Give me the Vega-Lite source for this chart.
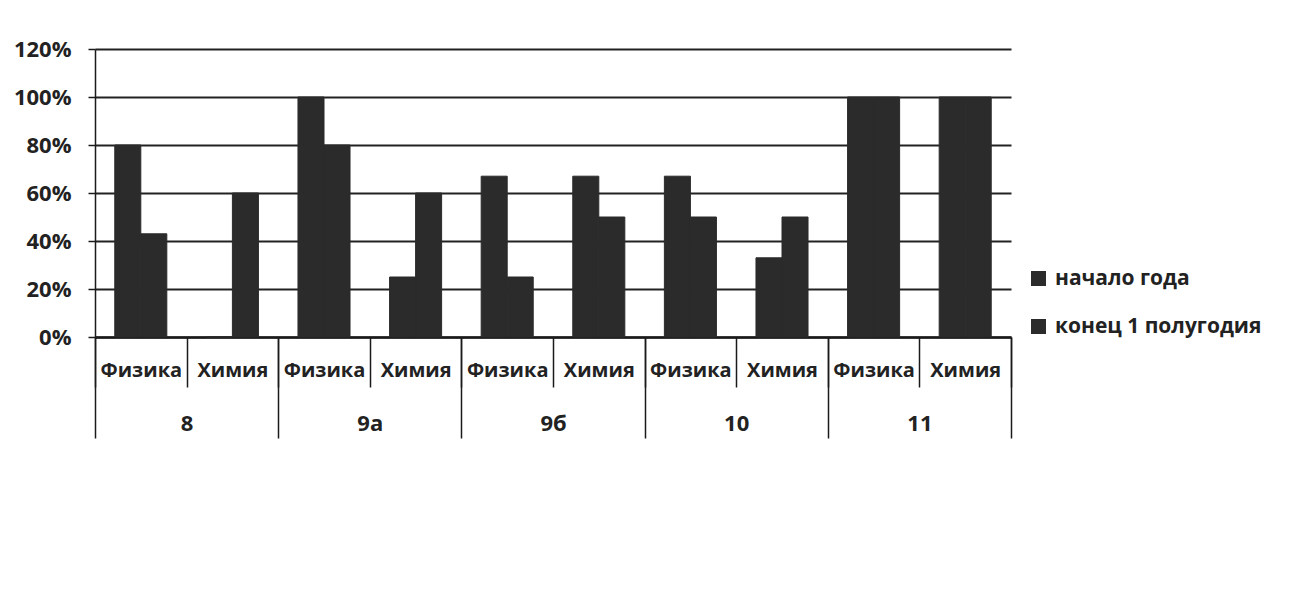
{
  "$schema": "https://vega.github.io/schema/vega-lite/v6.json",
  "autosize": {"type": "none"},
  "width": 916,
  "height": 288,
  "padding": {"left": 95, "top": 49, "right": 278, "bottom": 258},
  "background": "white",
  "config": {
    "view": {"stroke": null},
    "font": "Open Sans",
    "axis": {"labelFont": "Open Sans", "labelFontWeight": "bold", "labelColor": "#222"},
    "legend": {"labelFont": "Open Sans"}
  },
  "datasets": {
    "bars": [
      {"class": "8", "subject": "Физика", "series": "начало года", "value": 80},
      {"class": "8", "subject": "Физика", "series": "конец 1 полугодия", "value": 43},
      {"class": "8", "subject": "Химия", "series": "начало года", "value": 0},
      {"class": "8", "subject": "Химия", "series": "конец 1 полугодия", "value": 60},
      {"class": "9а", "subject": "Физика", "series": "начало года", "value": 100},
      {"class": "9а", "subject": "Физика", "series": "конец 1 полугодия", "value": 80},
      {"class": "9а", "subject": "Химия", "series": "начало года", "value": 25},
      {"class": "9а", "subject": "Химия", "series": "конец 1 полугодия", "value": 60},
      {"class": "9б", "subject": "Физика", "series": "начало года", "value": 67},
      {"class": "9б", "subject": "Физика", "series": "конец 1 полугодия", "value": 25},
      {"class": "9б", "subject": "Химия", "series": "начало года", "value": 67},
      {"class": "9б", "subject": "Химия", "series": "конец 1 полугодия", "value": 50},
      {"class": "10", "subject": "Физика", "series": "начало года", "value": 67},
      {"class": "10", "subject": "Физика", "series": "конец 1 полугодия", "value": 50},
      {"class": "10", "subject": "Химия", "series": "начало года", "value": 33},
      {"class": "10", "subject": "Химия", "series": "конец 1 полугодия", "value": 50},
      {"class": "11", "subject": "Физика", "series": "начало года", "value": 100},
      {"class": "11", "subject": "Физика", "series": "конец 1 полугодия", "value": 100},
      {"class": "11", "subject": "Химия", "series": "начало года", "value": 100},
      {"class": "11", "subject": "Химия", "series": "конец 1 полугодия", "value": 100}
    ],
    "classes": [
      {"class": "8"}, {"class": "9а"}, {"class": "9б"}, {"class": "10"}, {"class": "11"}
    ]
  },
  "layer": [
    {
      "data": {"name": "bars"},
      "transform": [{"calculate": "datum.class + '|' + datum.subject", "as": "cat"}],
      "mark": {"type": "bar", "color": "#2b2b2b", "stroke": "#2b2b2b", "strokeWidth": 1},
      "encoding": {
        "x": {
          "field": "cat", "type": "nominal", "sort": null,
          "scale": {"type": "band", "paddingInner": 0, "paddingOuter": 0},
          "axis": {
            "orient": "bottom", "title": null,
            "labelExpr": "split(datum.label, '|')[1]",
            "labelAngle": 0, "labelFontSize": 20, "labelBaseline": "middle",
            "labelPadding": -17,
            "domain": true, "domainColor": "#1a1a1a", "domainWidth": 2.5,
            "ticks": true, "tickBand": "extent", "tickSize": 50, "tickColor": "#1a1a1a", "tickWidth": 1.5,
            "grid": false
          }
        },
        "xOffset": {
          "field": "series", "type": "nominal",
          "scale": {"domain": ["начало года", "конец 1 полугодия"], "paddingInner": 0, "paddingOuter": 0.76}
        },
        "y": {
          "field": "value", "type": "quantitative",
          "scale": {"domain": [0, 120], "nice": false},
          "axis": {
            "title": null, "values": [0, 20, 40, 60, 80, 100, 120],
            "labelExpr": "datum.value + '%'",
            "labelFontSize": 22, "labelPadding": 17,
            "grid": true, "gridColor": "#222", "gridWidth": 2,
            "domain": true, "domainColor": "#1a1a1a", "domainWidth": 1.5,
            "ticks": true, "tickSize": 7, "tickColor": "#1a1a1a", "tickWidth": 1.5
          }
        },
        "color": {
          "field": "series", "type": "nominal",
          "scale": {"domain": ["начало года", "конец 1 полугодия"], "range": ["#2b2b2b", "#2b2b2b"]},
          "legend": {
            "title": null, "orient": "none", "legendX": 933, "legendY": 219,
            "padding": 0, "symbolType": "square", "symbolSize": 225, "symbolStrokeWidth": 0,
            "labelFontSize": 21, "labelFontWeight": "bold", "labelColor": "#222",
            "labelOffset": 6, "labelLimit": 400, "rowPadding": 26
          }
        }
      }
    },
    {
      "data": {"name": "classes"},
      "mark": {"type": "point", "opacity": 0},
      "encoding": {
        "x": {
          "field": "class", "type": "nominal", "sort": null,
          "scale": {"type": "band", "paddingInner": 0, "paddingOuter": 0},
          "axis": {
            "orient": "bottom", "title": null, "labelAngle": 0,
            "labelFontSize": 22, "labelBaseline": "middle", "labelPadding": -15,
            "domain": false, "grid": false,
            "ticks": true, "tickBand": "extent", "tickSize": 101, "tickColor": "#1a1a1a", "tickWidth": 1.5
          }
        }
      }
    }
  ],
  "resolve": {"scale": {"x": "independent"}}
}
